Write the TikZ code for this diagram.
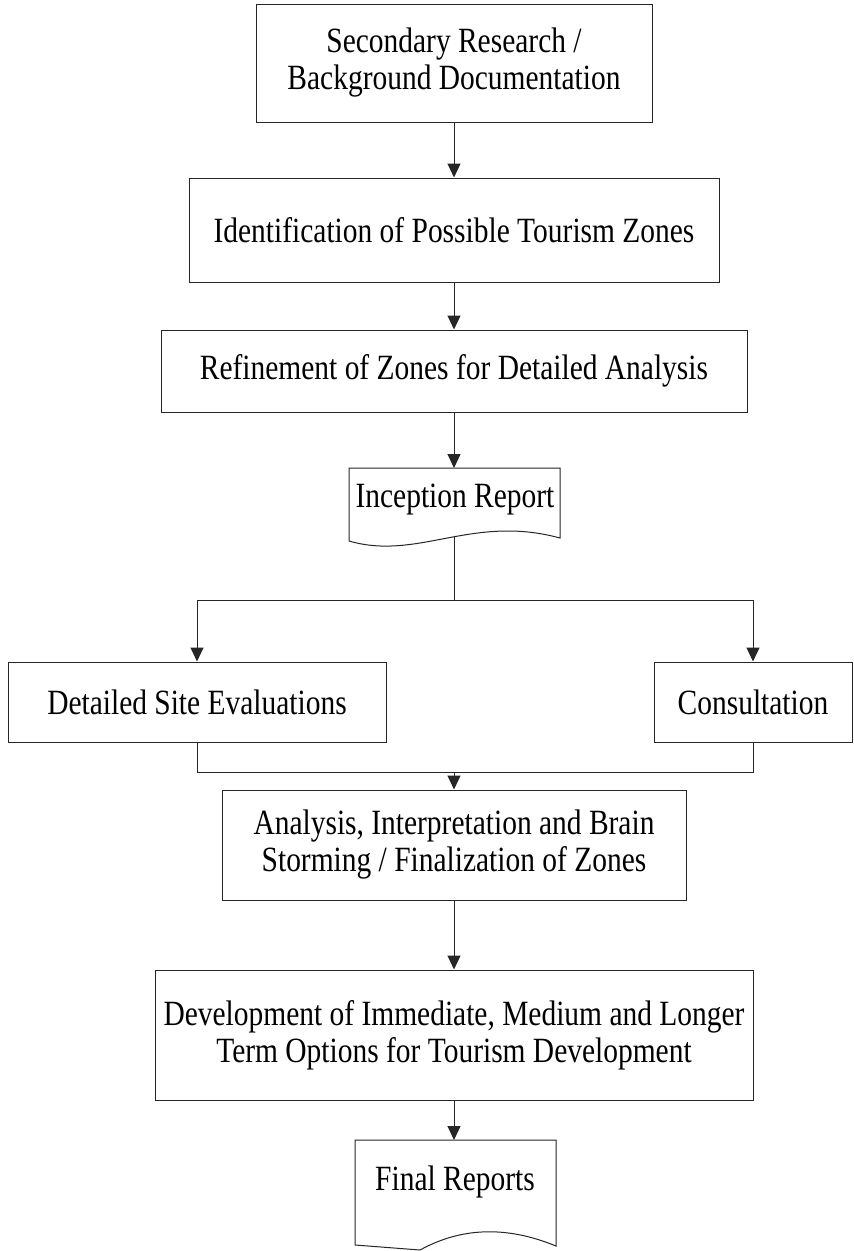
\documentclass[tikz,border=0pt]{standalone}
\usepackage{fontspec}
\setmainfont{Liberation Serif}[FakeStretch=0.83]
\usetikzlibrary{arrows.meta}
\begin{document}
\begin{tikzpicture}[x=1pt,y=-1pt,
  line width=1pt, draw=black!85,
  txt/.style={font=\fontsize{35.5}{37}\selectfont, align=center, inner sep=0pt},
  box/.style={txt, draw, rectangle},
  arr/.style={-{Triangle[length=14pt,width=13pt]}}]
\useasboundingbox (0,0) rectangle (854,1251);
\clip (0,0) rectangle (854,1251);
\fill[white] (0,0) rectangle (854,1251);
% boxes
\node[box, minimum width=396pt, minimum height=118pt] (b1) at (454,63) {Secondary Research /\\Background Documentation};
\node[box, minimum width=530pt, minimum height=104pt] (b2) at (454,230) {Identification of Possible Tourism Zones};
\node[box, minimum width=586pt, minimum height=82pt] (b3) at (454,371) {Refinement of Zones for Detailed Analysis};
% inception report document
\draw (349,541) -- (349,468) -- (560,468) -- (560,538) .. controls (472,514) and (418,561) .. (349,541);
\node[txt] (inc) at (455,500) {Inception Report};
\coordinate (incTop) at (454,468);
\coordinate (incBot) at (454,537);
\node[box, minimum width=378pt, minimum height=80pt] (dse) at (197,702) {Detailed Site Evaluations};
\node[box, minimum width=198pt, minimum height=80pt] (cons) at (753,702) {Consultation};
\node[box, minimum width=464pt, minimum height=110pt] (an) at (454,845) {Analysis, Interpretation and Brain\\Storming / Finalization of Zones};
\node[box, minimum width=598pt, minimum height=130pt] (dev) at (454,1035) {Development of Immediate, Medium and Longer\\Term Options for Tourism Development};
% final reports document
\draw (355,1245) -- (355,1140) -- (556,1140) -- (556,1246) .. controls (505,1225) and (460,1228) .. (420,1250) -- (355,1245);
\node[txt] (fin) at (455,1182) {Final Reports};
\coordinate (finTop) at (454,1140);
% connectors
\coordinate (split) at (454,600);
\coordinate (merge) at (454,772);
\draw[arr] (b1) -- (b2);
\draw[arr] (b2) -- (b3);
\draw[arr] (b3) -- (incTop);
\draw (incBot) -- (split);
\draw[arr] (split) -| (dse);
\draw[arr] (split) -| (cons);
\draw (dse) |- (merge);
\draw (cons) |- (merge);
\draw[arr] (merge) -- (an);
\draw[arr] (an) -- (dev);
\draw[arr] (dev) -- (finTop);
\end{tikzpicture}
\end{document}
